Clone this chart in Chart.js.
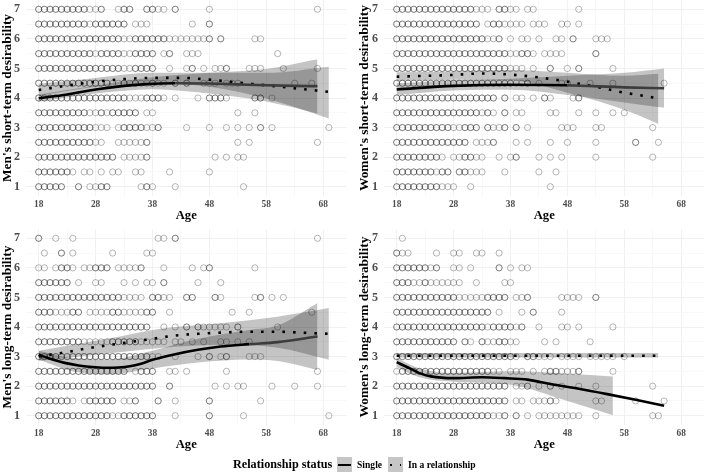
<!DOCTYPE html>
<html><head><meta charset="utf-8">
<script src="https://cdn.jsdelivr.net/npm/chart.js@4"></script>
<style>
html,body{margin:0;padding:0;background:#fff;width:708px;height:472px;overflow:hidden}
#wrap{position:relative;width:708px;height:472px;filter:blur(0.4px);font-family:"Liberation Serif",serif}
canvas{position:absolute}
.t{position:absolute;font-weight:bold;white-space:nowrap;color:#000;line-height:14px}
.sw{position:absolute;background:#c6c6c6;top:457px;width:15px;height:15px}
.ln{position:absolute;background:#000}
</style></head><body>
<div id="wrap">
<canvas id="c1" width="354" height="226" style="left:0;top:0"></canvas>
<canvas id="c2" width="354" height="226" style="left:354px;top:0"></canvas>
<canvas id="c3" width="354" height="226" style="left:0;top:229px"></canvas>
<canvas id="c4" width="354" height="226" style="left:354px;top:229px"></canvas>
<div class="t" style="left:233px;top:457px;font-size:12.2px">Relationship status</div>
<div class="sw" style="left:337px"><div class="ln" style="left:1px;top:7px;width:13px;height:2.4px"></div></div>
<div class="t" style="left:357px;top:458px;font-size:9.6px">Single</div>
<div class="sw" style="left:388px"><div class="ln" style="left:2px;top:7px;width:2.4px;height:2.4px"></div><div class="ln" style="left:11.5px;top:7px;width:1.4px;height:2.4px"></div></div>
<div class="t" style="left:408px;top:458px;font-size:9.6px">In a relationship</div>
</div>
<script>
const ratingRows=[7,6.5,6,5.5,5,4.5,4,3.5,3,2.5,2,1.5,1];
const ratingGrid=[1,1.5,2,2.5,3,3.5,4,4.5,5,5.5,6,6.5,7];
const ageGrid=[18,23,28,33,38,43,48,53,58,63,68];
const ageLabels=[18,28,38,48,58,68];

/* ---- Men's short-term: circles ---- */
const menShortAges=[
[18,19,20,21,22,23,24,25,26,27,28,29,32,33,34,37,38,39,40,42,48,67],
[18,19,20,21,22,23,24,25,26,27,28,29,30,31,32,33,35,36,37,45,48],
[18,19,20,21,22,23,24,25,26,27,28,29,30,31,32,33,34,35,36,37,38,39,40,41,42,43,44,45,46,47,48,50,56,57],
[18,19,20,21,22,23,24,25,26,27,28,29,30,31,32,33,34,35,36,37,38,40,41,44,45,46,60],
[18,19,20,21,22,23,24,25,26,27,28,29,30,31,32,33,34,35,36,37,38,41,44,45,47,49,50,51,55,56,57,61,67],
[18,19,20,21,22,23,24,25,26,27,28,29,30,31,32,33,34,35,36,37,38,39,40,42,44,47,48,49,51,52,53,63,66],
[18,19,20,21,22,23,24,25,26,27,28,29,30,31,32,33,34,35,36,37,38,39,40,42,46,48,49,50,51,56,57,59],
[18,19,20,21,22,23,24,25,26,27,28,29,30,31,32,33,34,35,37,38,53,56],
[18,19,20,21,22,23,24,25,26,27,28,29,30,32,33,34,35,36,37,38,39,44,48,51,53,55,57,59,69],
[18,19,20,21,22,23,24,25,26,27,28,29,32,33,34,35,36,37,53,55,67],
[18,19,20,21,22,23,24,25,26,27,28,29,30,31,33,34,35,36,37,49,51,53,54],
[18,19,20,21,22,23,24,26,27,29,31,32,35,36,41,48],
[18,19,20,21,22,25,27,28,29,30,36,37,38,42,54]];
const menShortRepeat=[
[18,19,20,21,22,23,24,25,26,29,33,34,37,38,42],
[18,19,20,21,22,23,24,25,26,28,29,30,31,32,33,48],
[18,19,20,21,22,23,24,25,26,27,28,29,30,31,32,35,36,37,38,39,40,48,50],
[18,19,20,21,22,23,24,25,26,27,29,30,31,32,35,36,37,38,41],
[18,19,20,21,22,23,24,25,26,27,28,29,30,31,32,35,36,37,38,45,51],
[18,19,20,21,22,23,24,25,26,27,28,29,30,33,35,38,42,44],
[18,19,20,21,22,23,24,25,26,27,28,29,30,31,32,33,37,38,39,48,49,50,56,57],
[18,19,20,21,22,23,24,25,26,29,31,32,33,34,35],
[18,19,20,21,22,23,24,25,26,27,33,34,35,36,39,57],
[18,19,20,21,22,23,24,25,26,27,37],
[18,19,20,21,22,23,24,25,26,27,28,29,30,31,37],
[18,19,20,21,22,23],
[18,19,20,21,22,25,29,30,37]];
/* ---- Women's short-term: circles ---- */
const womenShortAges=[
[18,19,20,21,22,23,24,25,26,27,28,29,30,31,32,33,34,36,37,38,39,41,42,50],
[18,19,20,21,22,23,24,25,26,27,28,29,30,31,32,34,35,36,37,38,39,40,42,43,44,47,48,50],
[18,19,20,21,22,23,24,25,26,27,28,29,30,31,32,33,34,35,36,38,40,41,43,46,47,49,53,54,55],
[18,19,20,21,22,23,24,25,26,27,28,29,30,31,32,33,34,35,36,37,38,39,40,41,42,44,45,46,47,53],
[18,19,20,21,22,23,24,25,26,27,28,29,30,31,32,33,34,35,36,37,38,39,40,42,45,48,50,56],
[18,19,20,21,22,23,24,25,26,27,28,29,30,31,32,33,34,35,36,37,38,39,40,41,43,47,48,52,56,65],
[18,19,20,21,22,23,24,25,26,27,28,29,30,31,32,33,34,35,37,39,40,42,44,45,49,50],
[18,19,20,21,22,23,24,25,26,27,28,29,30,31,32,33,34,35,37,39,40,45,46,50,53,56,58],
[18,19,20,21,22,23,24,25,26,27,28,29,30,31,32,34,35,36,37,39,41,47,48,49,53,54,63],
[18,19,20,21,22,23,24,25,26,27,28,29,30,32,33,34,35,39,41,45,48,53,60,64],
[18,19,20,21,22,23,24,25,26,28,29,30,31,32,33,36,38,39,43,45,47,53,63],
[18,19,20,21,22,23,24,25,26,27,29,30,31,32,33,37,43,46],
[18,19,20,21,22,23,24,25,26,27,28,31,45]];
const womenShortRepeat=[
[18,19,20,21,22,23,24,25,26,27,28,29,30,31,36,37],
[18,19,20,21,22,23,24,25,26,27,28,29,30,31,32,35,36],
[18,19,20,21,22,23,24,25,26,27,28,29,30,31,32,33,36,49],
[18,19,20,21,22,23,24,25,26,27,28,29,30,31,32,33,34,35,36,37,40,41,53],
[18,19,20,21,22,23,24,25,26,27,28,29,30,31,32,33,34,35,36,37,45,50],
[18,19,20,21,22,23,24,25,26,27,28,29,30,31,32,33,34,35,36,37,38,41],
[18,19,20,21,22,23,24,25,26,27,28,29,30,31,32,33,34,35,37,44,50],
[18,19,20,21,22,23,24,25,26,27,28,29,30,31,32,34,37],
[18,19,20,21,22,23,24,25,26,27,30,31,32,34,37,39],
[18,19,20,21,22,23,24,25,26,27,28,29,30,35,60],
[18,19,20,21,22,23,24,25,30,31,39],
[18,19,20,21,22,23,24,26,27,29,30],
[18,19,20,21,22,23,24,25]];
/* ---- Men's long-term: circles ---- */
const menLongAges=[
[18,21,24,39,40,42,67],
[19,22,24,31,37,38],
[18,19,21,22,23,24,26,27,28,29,30,32,33,34,35,36,40,45,47,48,56],
[18,19,20,21,22,23,25,28,29,33,35,37,38,40,46,50],
[18,19,20,21,22,23,24,25,26,27,28,29,30,31,32,33,34,35,36,38,39,40,41,44,45,49,50,56,57,59,61],
[18,19,20,21,22,23,24,25,27,28,29,30,31,32,33,34,35,36,37,38,41,52,55,66],
[18,19,20,21,22,23,24,25,26,27,28,29,30,31,32,33,34,35,36,37,40,42,44,46,47,48,49,50,51,53,60],
[18,19,20,21,22,23,24,25,26,27,28,29,30,31,32,33,34,35,36,37,38,39,40,42,43,45,47,50,51,53,55],
[18,19,20,21,22,23,24,25,26,27,28,29,30,31,32,33,34,35,36,37,38,39,42,46,48,50,51,55,56,57],
[18,19,20,21,22,23,24,25,26,27,28,29,30,31,32,33,35,36,37,38,41,42,44,51,67],
[18,19,20,21,22,23,24,25,26,27,28,29,30,31,32,33,34,35,36,37,38,41,49,51,53,54,59,63,67],
[18,19,20,21,22,23,24,26,27,28,29,30,31,33,34,35,39,42,48,57],
[18,19,20,21,22,23,24,25,26,27,28,29,30,31,32,33,34,35,36,37,38,42,48,54,69]];
const menLongRepeat=[
[18,42],[22],
[22,23,28,29,30,36,48],
[18,19,20,21,22,23,40],
[18,19,20,21,22,23,24,25,26,27,28,29,30,31,32,38,39,44,45,49,57],
[18,19,20,24,25,31,32,37,38],
[18,19,20,21,22,23,24,25,26,27,28,29,30,31,32,33,34,35,36,37,44,46,53],
[18,19,20,21,22,23,24,25,31,32,33,34,35],
[18,19,20,21,22,23,24,25,26,27,28,29,30,31,32,33,34,35,36,37,48,51],
[18,19,20,21,22,23,24,25,26,27,28,29,30,31,32,33,36,37,38],
[18,19,20,21,22,23,24,25,26,27,28,29,30,31,32,33,34,35,36,37,38,41],
[18,19,20,21,22,23,27,28,29,30,31,35,39,48],
[18,19,20,21,22,23,24,25,26,27,28,29,30,33,34,35,36,37,38,48]];
/* ---- Women's long-term: circles ---- */
const womenLongAges=[
[19],
[18,19,20,25,28,29,32,33,36],
[18,19,20,21,22,23,24,25,28,29,31,36,38,40,41],
[18,19,20,21,22,23,24,25,26,27,28,29,32,37,38],
[18,19,20,21,22,23,24,25,26,27,28,29,30,31,32,33,34,35,36,37,39,40,41,47,48,49,50,53],
[18,19,20,21,22,23,24,25,26,27,28,29,30,31,32,33,34,36,40,42,47],
[18,19,20,21,22,23,24,25,26,27,28,29,30,31,32,33,34,35,36,37,38,39,40,43,47,48,50,56],
[18,19,20,21,22,23,24,25,26,27,28,30,31,33,34,35,36,37,38,39,44,46,52],
[18,19,20,21,22,23,24,25,26,27,28,29,30,31,32,33,34,35,36,37,38,39,41,42,43,44,45,47,48,49,50,52,53,54,55,56,58],
[18,19,20,21,22,23,24,25,26,27,28,29,30,31,32,33,34,35,36,38,39,40,42,44,45,46,47,48,49,50,56],
[18,19,20,21,22,23,24,25,26,27,28,29,30,31,32,33,34,35,36,37,39,40,41,43,45,47,50,53,63],
[18,19,20,21,22,23,24,25,26,27,28,29,30,31,32,33,34,35,36,37,39,40,42,43,44,45,46,53,54,60,65],
[18,19,20,21,22,23,24,25,26,27,28,29,30,31,32,33,34,35,36,37,39,41,43,44,45,46,47,48,49,50,53,63,64]];
const womenLongRepeat=[
[],[18],
[18,19,20,21,22,23,25,36],
[18,19,20,23],
[18,19,20,21,22,23,24,25,26,27,28,34,35,36,37,41,53],
[18,19,20,21,22,23,24,25,26,27,28,29,30,31,32,33,34,42],
[18,19,20,21,22,23,24,25,26,27,28,29,30,31,32,33,35,36,37,38,40],
[18,19,20,21,22,23,24,25,26,27,28,30,33,36,37],
[18,19,20,21,22,23,24,25,26,27,28,29,30,31,32,33,34,35,36,37,38,41,42],
[19,20,21,22,23,24,25,26,27,28,29,30,31,32,33,34,45,46,50],
[18,19,20,21,22,23,24,25,26,27,28,29,30,31,32,33,34,35,36,37,41,45],
[18,19,20,21,22,23,24,25,26,27,28,29,30,31,32,33,34,35,36,37,45],
[18,19,20,21,22,23,24,25,26,27,28,29,30,31,32,33,34,37,39]];

/* ---- Men's short-term: smooths ---- */
const msSingleAge=[18,23,28,33,37,42,48,53,58,63,67];
const msSingleMean=[3.99,4.12,4.29,4.41,4.47,4.5,4.49,4.46,4.43,4.41,4.4];
const msBandAge=[18,28,38,48,58,67];
const msSingleUp=[4.12,4.42,4.7,4.85,4.98,5.31];
const msSingleLo=[3.87,4.15,4.3,4.15,3.88,3.48];
const msRelAge=[18,23,28,33,38,43,48,53,58,63,69];
const msRelMean=[4.27,4.42,4.55,4.64,4.68,4.68,4.62,4.52,4.43,4.33,4.21];
const msRelBandAge=[18,28,38,48,58,69];
const msRelUp=[4.48,4.68,4.85,4.85,4.85,5.06];
const msRelLo=[4.07,4.38,4.5,4.38,3.98,3.31];
/* ---- Women's short-term: smooths ---- */
const wsSingleAge=[18,28,38,48,58,65];
const wsSingleMean=[4.29,4.41,4.45,4.43,4.36,4.33];
const wsBandAge=[18,28,38,48,58,65];
const wsSingleUp=[4.5,4.6,4.65,4.75,4.85,5.0];
const wsSingleLo=[4.1,4.25,4.28,4.1,3.85,3.67];
const wsRelAge=[18,28,33,38,44,48,53,58,63,64];
const wsRelMean=[4.72,4.78,4.83,4.79,4.67,4.55,4.38,4.18,4.02,3.98];
const wsRelBandAge=[18,28,38,48,58,64];
const wsRelUp=[4.87,4.9,4.95,4.85,4.75,4.82];
const wsRelLo=[4.58,4.62,4.6,4.18,3.6,3.12];
/* ---- Men's long-term: smooths ---- */
const mlSingleAge=[18,20,23,25,28,30,32,34,36,38,42,46,50,55,60,67];
const mlSingleMean=[3.06,2.93,2.77,2.7,2.64,2.62,2.63,2.67,2.76,2.89,3.08,3.23,3.34,3.42,3.49,3.68];
const mlBandAge=[18,24,30,38,46,55,60,67];
const mlSingleUp=[3.2,2.95,2.9,3.2,3.6,3.9,4.05,4.81];
const mlSingleLo=[2.9,2.5,2.4,2.6,2.8,2.9,2.85,2.55];
const mlRelAge=[18,22,26,30,34,38,42,46,50,55,60,65,69];
const mlRelMean=[3.0,3.12,3.26,3.38,3.49,3.6,3.71,3.77,3.81,3.84,3.84,3.8,3.77];
const mlRelBandAge=[18,30,40,50,60,69];
const mlRelUp=[3.2,3.6,3.96,4.13,4.35,4.64];
const mlRelLo=[2.85,3.1,3.3,3.4,3.3,2.89];
/* ---- Women's long-term: smooths ---- */
const wlSingleAge=[18,20,22,24,28,33,37,41,45,50,55,60,65];
const wlSingleMean=[2.81,2.63,2.44,2.33,2.27,2.3,2.27,2.22,2.07,1.91,1.73,1.54,1.34];
const wlBandAge=[18,22,28,38,48,56];
const wlSingleUp=[2.95,2.6,2.45,2.5,2.42,2.33];
const wlSingleLo=[2.65,2.3,2.15,2.05,1.5,1.02];
const wlRelAge=[18,30,45,63.5];
const wlRelMean=[3.03,3.03,3.03,3.03];
const wlRelBandAge=[18,30,45,64];
const wlRelUp=[3.12,3.12,3.12,3.12];
const wlRelLo=[2.97,2.97,2.97,2.97];

const FONT='"Liberation Serif", serif';
const zip=(a,b)=>a.map((v,i)=>({x:v,y:b[i]}));
const pts=rows=>rows.flatMap((ages,i)=>ages.map(a=>({x:a,y:ratingRows[i]})));

function panel(id,title,leftW,rightPad,topPad,ages,rep,s){
  const ribbon=(age,up,lo,order)=>[
    {data:zip(age,up),borderWidth:0,pointRadius:0,fill:false,cubicInterpolationMode:'monotone',order},
    {data:zip(age,lo),borderWidth:0,pointRadius:0,fill:'-1',backgroundColor:'rgba(0,0,0,0.23)',cubicInterpolationMode:'monotone',order}
  ];
  const circle={showLine:false,pointStyle:'circle',pointRadius:3.1,pointBorderWidth:0.8,
    pointBorderColor:'rgba(0,0,0,0.36)',pointBackgroundColor:'rgba(0,0,0,0)',order:6};
  new Chart(document.getElementById(id),{
    type:'line',
    data:{datasets:[
      {...circle,data:pts(ages)},
      {...circle,data:pts(rep),order:5},
      ...ribbon(s.bandAge,s.up,s.lo,4),
      ...ribbon(s.relBandAge,s.relUp,s.relLo,3),
      {data:zip(s.relAge,s.relMean),borderColor:'#000',borderWidth:2.6,borderDash:[2.6,8.07],pointRadius:0,
       cubicInterpolationMode:'monotone',fill:false,order:2},
      {data:zip(s.age,s.mean),borderColor:'#000',borderWidth:2.6,pointRadius:0,
       cubicInterpolationMode:'monotone',fill:false,order:1,
       segment:{borderColor:c=>c.p0.parsed.x>=s.fade?'#3c3c3c':'#000'}}
    ]},
    options:{
      responsive:false,animation:false,
      layout:{autoPadding:false,padding:{left:0,right:rightPad,top:topPad,bottom:0}},
      plugins:{legend:{display:false},tooltip:{enabled:false}},
      scales:{
        x:{type:'linear',min:15.77,max:72.1,
          afterBuildTicks:sc=>{sc.ticks=ageGrid.map(v=>({value:v}));},
          afterFit:sc=>{sc.height=226-topPad-195.2;sc.paddingLeft=0;sc.paddingRight=0;},
          grid:{color:c=>ageLabels.includes(c.tick.value)?'#eeeeee':'#f6f6f6',lineWidth:0.8,drawTicks:false},
          border:{display:false},
          ticks:{autoSkip:false,maxRotation:0,padding:3,color:'#4d4d4d',font:{family:FONT,size:9.4,weight:'bold'},
            callback:v=>ageLabels.includes(v)?String(v):''},
          title:{display:true,text:'Age',color:'#000',font:{family:FONT,size:12.6,weight:'bold'},padding:{top:1,bottom:3}}},
        y:{type:'linear',min:0.7,max:7.3,
          afterBuildTicks:sc=>{sc.ticks=ratingGrid.map(v=>({value:v}));},
          afterFit:sc=>{sc.width=leftW;sc.paddingTop=0;sc.paddingBottom=0;},
          grid:{color:c=>Number.isInteger(c.tick.value)?'#eeeeee':'#f6f6f6',lineWidth:0.8,drawTicks:false},
          border:{display:false},
          ticks:{autoSkip:false,padding:6,color:'#4d4d4d',font:{family:FONT,size:12,weight:'bold'},
            callback:v=>Number.isInteger(v)?String(v):''},
          title:{display:true,text:title,color:'#000',font:{family:FONT,size:13.4,weight:'bold'},
            padding:{top:leftW>28?3:0,bottom:0}}}
      }
    }
  });
}
panel('c1',"Men's short-term desirability",26,7.5,0.4,menShortAges,menShortRepeat,
 {age:msSingleAge,mean:msSingleMean,bandAge:msBandAge,up:msSingleUp,lo:msSingleLo,relAge:msRelAge,relMean:msRelMean,relBandAge:msRelBandAge,relUp:msRelUp,relLo:msRelLo,fade:39});
panel('c2',"Women's short-term desirability",30,3.5,0.4,womenShortAges,womenShortRepeat,
 {age:wsSingleAge,mean:wsSingleMean,bandAge:wsBandAge,up:wsSingleUp,lo:wsSingleLo,relAge:wsRelAge,relMean:wsRelMean,relBandAge:wsRelBandAge,relUp:wsRelUp,relLo:wsRelLo,fade:48});
panel('c3',"Men's long-term desirability",26,7.5,0.4,menLongAges,menLongRepeat,
 {age:mlSingleAge,mean:mlSingleMean,bandAge:mlBandAge,up:mlSingleUp,lo:mlSingleLo,relAge:mlRelAge,relMean:mlRelMean,relBandAge:mlRelBandAge,relUp:mlRelUp,relLo:mlRelLo,fade:55});
panel('c4',"Women's long-term desirability",30,3.5,0.4,womenLongAges,womenLongRepeat,
 {age:wlSingleAge,mean:wlSingleMean,bandAge:wlBandAge,up:wlSingleUp,lo:wlSingleLo,relAge:wlRelAge,relMean:wlRelMean,relBandAge:wlRelBandAge,relUp:wlRelUp,relLo:wlRelLo,fade:99});
</script>
</body></html>
